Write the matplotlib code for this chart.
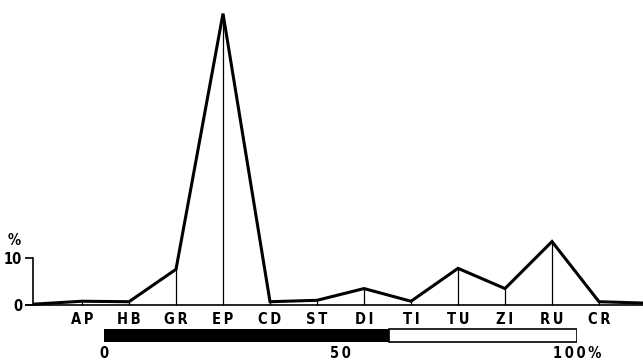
import matplotlib.pyplot as plt

# categories along the profile
categories = ["AP", "HB", "GR", "EP", "CD", "ST", "DI", "TI", "TU", "ZI", "RU", "CR"]
values = [0.8, 0.7, 7.6, 62.0, 0.7, 1.0, 3.5, 0.8, 7.8, 3.5, 13.5, 0.7]
# line runs a bit past the first and last category
start_value = 0.2
end_value = 0.4

# percent bar under the axis
black_pct = 60.3
bar_ticks = [0, 50, 100]
bar_labels = ["0", "50", "100%"]

font = dict(family="DejaVu Sans", stretch="condensed", weight="bold", fontsize=10.5)


def spaced(s):
    return "\u2009".join(s)


fig = plt.figure(figsize=(6.43, 3.6), dpi=100)
ax = fig.add_axes([0, 0, 1, 1])

xs = list(range(len(categories)))
line_x = [-1] + xs + [len(categories)]
line_y = [start_value] + values + [end_value]

ax.plot(line_x, line_y, color="black", lw=2.2, solid_joinstyle="miter", zorder=3)
ax.vlines(xs, 0, values, color="black", lw=0.9)

ax.set_xlim(-1.745, 11.936)
ax.set_ylim(-11.70, 64.89)

for s in ["top", "right"]:
    ax.spines[s].set_visible(False)
ax.spines["bottom"].set_position(("data", 0))
ax.spines["bottom"].set_bounds(-1.2, 12)
ax.spines["bottom"].set_linewidth(1.2)
ax.spines["left"].set_position(("data", -1.04))
ax.spines["left"].set_bounds(0, 10)
ax.spines["left"].set_linewidth(1.2)

ax.set_xticks(xs)
ax.set_xticklabels([spaced(c) for c in categories], **font)
ax.tick_params(axis="x", length=0, pad=5)
ax.set_yticks([0, 10])
ax.set_yticklabels(["0", "10"], **font)
ax.tick_params(axis="y", length=6, width=1.2, pad=2)
ax.text(-1.45, 13.8, "%", ha="center", va="center", **font)

bar_ax = fig.add_axes([104 / 643, 17 / 360, 473 / 643, 15 / 360])
bar_ax.barh(0, black_pct, height=1, color="black")
bar_ax.barh(0, 100 - black_pct, left=black_pct, height=1, color="white",
            edgecolor="black", lw=1.2)
bar_ax.set_xlim(0, 100)
bar_ax.set_ylim(-0.55, 0.55)
for s in bar_ax.spines.values():
    s.set_visible(False)
bar_ax.set_yticks([])
bar_ax.set_xticks(bar_ticks)
bar_ax.set_xticklabels([spaced(t) for t in bar_labels], **font)
bar_ax.tick_params(axis="x", length=0, pad=2)

fig.savefig("out.png", dpi=100)
